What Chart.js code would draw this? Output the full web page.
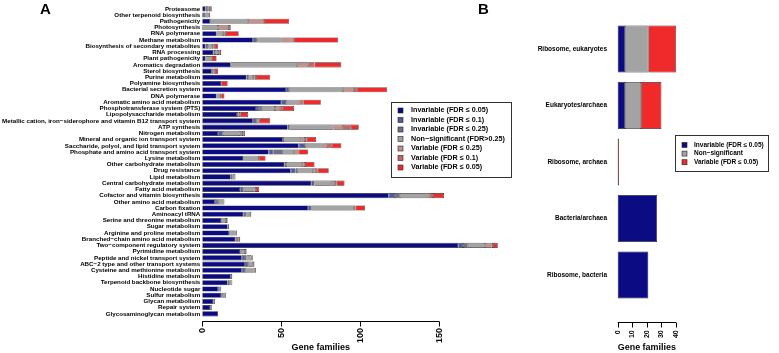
<!DOCTYPE html>
<html>
<head>
<meta charset="utf-8">
<script src="https://cdn.jsdelivr.net/npm/chart.js@4"></script>
<style>
  body { margin: 0; background: #fff; }
  #wrap { position: relative; width: 779px; height: 353px; }
  canvas { position: absolute; top: 0; }
  #chartA { left: 0; }
  #chartB { left: 470px; }
</style>
</head>
<body>
<div id="wrap">
  <canvas id="chartA" width="515" height="353"></canvas>
  <canvas id="chartB" width="309" height="353"></canvas>
</div>
<script>
// Panel A: KEGG modules, gene families per significance class
const categoriesA = [
  'Proteasome', 'Other terpenoid biosynthesis', 'Pathogenicity', 'Photosynthesis',
  'RNA polymerase', 'Methane metabolism', 'Biosynthesis of secondary metabolites',
  'RNA processing', 'Plant pathogenicity', 'Aromatics degradation', 'Sterol biosynthesis',
  'Purine metabolism', 'Polyamine biosynthesis', 'Bacterial secretion system',
  'DNA polymerase', 'Aromatic amino acid metabolism', 'Phosphotransferase system (PTS)',
  'Lipopolysaccharide metabolism',
  'Metallic cation, iron\u2212siderophore and vitamin B12 transport system',
  'ATP synthesis', 'Nitrogen metabolism', 'Mineral and organic ion transport system',
  'Saccharide, polyol, and lipid transport system', 'Phosphate and amino acid transport system',
  'Lysine metabolism', 'Other carbohydrate metabolism', 'Drug resistance', 'Lipid metabolism',
  'Central carbohydrate metabolism', 'Fatty acid metabolism', 'Cofactor and vitamin biosynthesis',
  'Other amino acid metabolism', 'Carbon fixation', 'Aminoacyl tRNA',
  'Serine and threonine metabolism', 'Sugar metabolism', 'Arginine and proline metabolism',
  'Branched\u2212chain amino acid metabolism', 'Two\u2212component regulatory system',
  'Pyrimidine metabolism', 'Peptide and nickel transport system',
  'ABC\u22122 type and other transport systems', 'Cysteine and methionine metabolism',
  'Histidine metabolism', 'Terpenoid backbone biosynthesis', 'Nucleotide sugar',
  'Sulfur metabolism', 'Glycan metabolism', 'Repair system', 'Glycosaminoglycan metabolism'
];
const invariable05 = [2,1,5,0,9,32,2,7,2,18,6,28,12,53,9,50,34,22,32,54,10,51,61,42,26,52,56,18,69,24,118,8,67,26,12,16,17,21,162,24,25,27,25,18,16,10,12,7,5,10];
const invariable10 = [0,0,0,0,0,2,1,0,0,0,0,1,0,2,0,3,2,0,2,1,3,0,4,3,0,0,3,0,2,2,4,0,2,0,0,0,0,0,3,0,2,2,2,0,0,0,0,0,0,0];
const invariable25 = [1,1,0,0,0,1,1,1,0,0,0,0,0,0,0,0,2,1,0,0,0,1,0,6,0,1,1,1,0,0,3,2,0,2,0,1,0,0,3,0,1,0,0,1,1,1,1,1,1,0];
const nonSignificant = [1,2,24,10,4,15,2,2,4,42,1,3,0,34,2,6,8,1,2,28,11,10,11,7,9,10,10,2,11,7,17,4,27,2,3,0,4,1,11,3,3,3,6,0,2,1,2,0,0,0];
const variable25 = [0,0,10,6,1,7,1,0,0,7,1,1,0,7,0,3,3,0,0,6,1,3,3,3,0,2,2,0,2,1,2,0,1,1,0,0,1,0,4,1,1,1,0,0,0,0,0,0,0,0];
const variable10 = [1,1,0,1,1,1,1,1,0,4,0,1,0,2,1,2,2,0,0,5,1,1,3,0,1,0,1,0,1,0,2,0,0,0,1,0,0,1,1,0,0,0,1,0,0,0,0,0,0,0];
const variable05 = [1,0,16,1,8,28,2,1,3,17,2,9,4,19,2,11,7,5,7,5,1,6,6,6,4,6,7,0,5,2,7,0,6,0,0,0,0,1,3,0,0,0,0,0,0,0,0,0,0,0];
const ticksA = [0, 50, 100, 150];

// Panel B: ribosomal groups
const categoriesB = ['Ribosome, eukaryotes', 'Eukaryotes/archaea', 'Ribosome, archaea', 'Bacteria/archaea', 'Ribosome, bacteria'];
const invariableB = [5, 5, 0, 27, 21];
const nonSignificantB = [16, 11, 0, 0, 0];
const variableB = [19, 14, 1, 0, 0];
const ticksB = [0, 10, 20, 30, 40];

const FONT = '"Liberation Sans", Arial, sans-serif';
Chart.defaults.font.family = FONT;
Chart.defaults.font.weight = 'bold';
Chart.defaults.color = '#000';

const seriesA = [
  { label: 'Invariable (FDR \u2264 0.05)', data: invariable05, color: '#0b0b84' },
  { label: 'Invariable (FDR \u2264 0.1)', data: invariable10, color: '#4f5a9e' },
  { label: 'Invariable (FDR \u2264 0.25)', data: invariable25, color: '#6f6f8c' },
  { label: 'Non\u2212significant (FDR>0.25)', data: nonSignificant, color: '#a3a3a3' },
  { label: 'Variable (FDR \u2264 0.25)', data: variable25, color: '#c2928c' },
  { label: 'Variable (FDR \u2264 0.1)', data: variable10, color: '#c86464' },
  { label: 'Variable (FDR \u2264 0.05)', data: variable05, color: '#f02a2a' }
];
const seriesB = [
  { label: 'Invariable (FDR \u2264 0.05)', data: invariableB, color: '#0b0b84' },
  { label: 'Non\u2212significant', data: nonSignificantB, color: '#a3a3a3' },
  { label: 'Variable (FDR \u2264 0.05)', data: variableB, color: '#f02a2a' }
];

// R-style axis: line only from first to last tick, sitting a little below the plot
const axisLine = {
  id: 'axisLine',
  afterDraw(chart, args, opts) {
    const { ctx, chartArea } = chart;
    const sx = chart.scales.x;
    const y = Math.round(chartArea.bottom + opts.offset) + 0.5;
    const vals = opts.ticks;
    ctx.save();
    ctx.strokeStyle = '#000';
    ctx.lineWidth = 1;
    ctx.beginPath();
    ctx.moveTo(sx.getPixelForValue(vals[0]), y);
    ctx.lineTo(sx.getPixelForValue(vals[vals.length - 1]), y);
    vals.forEach(v => {
      const x = Math.round(sx.getPixelForValue(v)) + 0.5;
      ctx.moveTo(x, y);
      ctx.lineTo(x, y + opts.length);
    });
    ctx.stroke();
    ctx.restore();
  }
};

const boxLegend = {
  id: 'boxLegend',
  afterDraw(chart, args, opts) {
    const ctx = chart.ctx;
    ctx.save();
    ctx.strokeStyle = '#333';
    ctx.lineWidth = 1;
    ctx.strokeRect(opts.x + 0.5, opts.y + 0.5, opts.w, opts.h);
    ctx.font = `bold ${opts.size}px ${FONT}`;
    ctx.textBaseline = 'middle';
    chart.data.datasets.forEach((ds, i) => {
      const cy = opts.firstRow + i * opts.rowGap;
      ctx.fillStyle = ds.backgroundColor;
      ctx.fillRect(opts.swatchX, cy - 2.5, 5, 5);
      ctx.strokeStyle = '#222';
      ctx.lineWidth = 0.6;
      ctx.strokeRect(opts.swatchX, cy - 2.5, 5, 5);
      ctx.fillStyle = '#000';
      ctx.fillText(ds.label, opts.textX, cy);
    });
    ctx.restore();
  }
};

const panelLetter = {
  id: 'panelLetter',
  afterDraw(chart, args, opts) {
    const ctx = chart.ctx;
    ctx.save();
    ctx.font = `bold 15px ${FONT}`;
    ctx.fillStyle = '#000';
    ctx.textBaseline = 'alphabetic';
    ctx.fillText(opts.text, opts.x, opts.y);
    ctx.restore();
  }
};

function makeDatasets(series, thickness) {
  return series.map(s => ({
    label: s.label,
    data: s.data,
    backgroundColor: s.color,
    borderColor: '#2a2a2a',
    borderWidth: 0.6,
    borderSkipped: false,
    barPercentage: thickness,
    categoryPercentage: 1,
    clip: false
  }));
}

new Chart(document.getElementById('chartA'), {
  type: 'bar',
  data: { labels: categoriesA, datasets: makeDatasets(seriesA, 0.82) },
  options: {
    indexAxis: 'y',
    responsive: false,
    animation: false,
    layout: { padding: { left: 0, right: 75.7, top: 1.5, bottom: 0 } },
    plugins: {
      legend: { display: false },
      tooltip: { enabled: false },
      axisLine: { offset: 3.5, length: 5, ticks: ticksA },
      boxLegend: { x: 391, y: 102, w: 120, h: 75, firstRow: 110.5, rowGap: 9.5, swatchX: 398, textX: 411, size: 7.2 },
      panelLetter: { text: 'A', x: 40, y: 14 }
    },
    scales: {
      x: {
        stacked: true,
        min: 0,
        max: 150,
        afterBuildTicks: s => { s.ticks = ticksA.map(v => ({ value: v })); },
        ticks: { font: { size: 9, weight: 'bold' }, minRotation: 90, maxRotation: 90, padding: 11 },
        grid: { display: false, drawTicks: false },
        border: { display: false },
        title: { display: true, text: 'Gene families', font: { size: 9, weight: 'bold' }, padding: 0 },
        afterFit: s => { s.height = 36; }
      },
      y: {
        stacked: true,
        ticks: { autoSkip: false, font: { size: 6.2, weight: 'bold' }, padding: 2 },
        grid: { display: false, drawTicks: false },
        border: { display: false },
        afterFit: s => { s.width = 202.3; }
      }
    }
  },
  plugins: [axisLine, boxLegend, panelLetter]
});

new Chart(document.getElementById('chartB'), {
  type: 'bar',
  data: { labels: categoriesB, datasets: makeDatasets(seriesB, 0.83) },
  options: {
    indexAxis: 'y',
    responsive: false,
    animation: false,
    layout: { padding: { left: 0, right: 103, top: 20.75, bottom: 0 } },
    plugins: {
      legend: { display: false },
      tooltip: { enabled: false },
      axisLine: { offset: 18.5, length: 5, ticks: ticksB },
      boxLegend: { x: 205, y: 135, w: 93, h: 36, firstRow: 145, rowGap: 8.6, swatchX: 212, textX: 224, size: 6.5 },
      panelLetter: { text: 'B', x: 8, y: 14 }
    },
    scales: {
      x: {
        stacked: true,
        min: 0,
        max: 40,
        afterBuildTicks: s => { s.ticks = ticksB.map(v => ({ value: v })); },
        ticks: { font: { size: 7, weight: 'bold' }, minRotation: 90, maxRotation: 90, padding: 27 },
        grid: { display: false, drawTicks: false },
        border: { display: false },
        title: { display: true, text: 'Gene families', font: { size: 9, weight: 'bold' }, padding: 0 },
        afterFit: s => { s.height = 49.75; }
      },
      y: {
        stacked: true,
        ticks: { autoSkip: false, font: { size: 6.5, weight: 'bold' }, padding: 10.7 },
        grid: { display: false, drawTicks: false },
        border: { display: false },
        afterFit: s => { s.width = 147.7; }
      }
    }
  },
  plugins: [axisLine, boxLegend, panelLetter]
});
</script>
</body>
</html>
